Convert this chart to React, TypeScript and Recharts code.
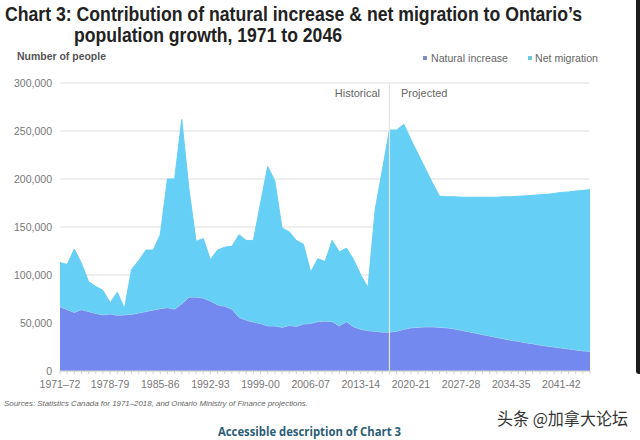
import { AreaChart, Area, XAxis, YAxis, CartesianGrid, ReferenceLine } from "recharts"

// seasons 1971-72 .. 2045-46
const seasons = Array.from({ length: 75 }, (_, i) => `${1971 + i}-${String((72 + i) % 100).padStart(2, "0")}`)

const naturalIncrease = [
  67000, 64000, 61000, 64000, 62000, 60000, 58500, 59500, 58000, 58500,
  59000, 60500, 62000, 63500, 65000, 66000, 64500, 70000, 77000, 77000,
  76000, 73000, 69000, 67500, 64500, 56000, 53000, 51000, 49500, 47000,
  47000, 45500, 47500, 46500, 49000, 49500, 51500, 52000, 51500, 47000,
  51500, 46000, 43500, 42000, 41500, 40500, 40500, 41500, 43500, 45000,
  45500, 46000, 46000, 45500, 45000, 44000, 42500, 41000, 39500, 38000,
  36500, 35000, 33500, 32000, 31000, 29500, 28500, 27000, 26000, 25000,
  24000, 23000, 22000, 21000, 20500,
]

const netMigration = [
  46000, 47000, 66000, 48000, 31000, 28000, 25500, 11500, 24000, 6500,
  47000, 54500, 64000, 62500, 77000, 134000, 135500, 192000, 113000, 58000,
  62000, 43000, 57000, 61500, 65500, 86000, 83000, 85000, 125500, 166000,
  151000, 103500, 97500, 89500, 83000, 53500, 65500, 62000, 84500, 77000,
  76500, 70000, 56500, 45000, 126500, 168500, 210500, 209500, 213500, 196000,
  180500, 165000, 150000, 136500, 136500, 137500, 138500, 140000, 141500, 143000,
  144500, 146000, 148000, 149500, 151000, 153000, 154500, 156500, 158000, 160000,
  162000, 163500, 165500, 167000, 168500,
]

const yTicks = [0, 50000, 100000, 150000, 200000, 250000, 300000]
const lastHistorical = "2017-18"

const data = seasons.map((season, i) => ({
  season,
  natural: naturalIncrease[i],
  migration: netMigration[i],
}))

const colors = {
  natural: "#7389ef",
  migration: "#65cff6",
  grid: "#dedede",
  axisText: "#777",
}

const XTick = (props: any) => {
  const { x, y, payload, index } = props
  if (index % 7 !== 0) return null
  const label = index === 0 ? payload.value.replace("-", "–") : payload.value
  return (
    <text x={x} y={y + 12} textAnchor="middle" fontSize={10.5} fill={colors.axisText} fontFamily="Liberation Sans, Arial, sans-serif">
      {label}
    </text>
  )
}

export default function App() {
  return (
    <div style={{ position: "absolute", left: 0, top: 0, width: 640, height: 440, background: "#fff", overflow: "hidden" }}>
      <AreaChart width={640} height={440} data={data} margin={{ top: 83, right: 50, bottom: 0, left: 0 }}>
        <CartesianGrid vertical={false} stroke={colors.grid} />
        <XAxis
          dataKey="season"
          interval={0}
          height={69}
          tickSize={3}
          tickLine={{ stroke: "#d0d0d0" }}
          axisLine={{ stroke: "#d0d0d0" }}
          tick={<XTick />}
        />
        <YAxis
          width={60}
          domain={[0, 300000]}
          ticks={yTicks}
          axisLine={false}
          tickLine={false}
          tickFormatter={(v: number) => v.toLocaleString("en-US")}
          tick={{ fontSize: 10.5, fill: colors.axisText, fontFamily: "Liberation Sans, Arial, sans-serif" }}
        />
        <Area
          type="linear"
          dataKey="natural"
          stackId="1"
          fill={colors.natural}
          fillOpacity={1}
          stroke="#a9dcf8"
          strokeWidth={1}
          isAnimationActive={false}
        />
        <Area
          type="linear"
          dataKey="migration"
          stackId="1"
          fill={colors.migration}
          fillOpacity={1}
          stroke={colors.migration}
          strokeWidth={1}
          isAnimationActive={false}
        />
        <ReferenceLine x={lastHistorical} stroke="#e4e4e4" strokeWidth={1.2} />
      </AreaChart>

      <svg width={640} height={440} style={{ position: "absolute", left: 0, top: 0, pointerEvents: "none" }} fontFamily="Liberation Sans, Arial, sans-serif">
        {/* title glyphs are tall and narrow in the original, so stretch vertically */}
        <g transform="translate(0,21) scale(1,1.12)">
          <text x={5} y={0} fontSize={17.5} fontWeight="bold" fill="#222" textLength={577} lengthAdjust="spacingAndGlyphs">
            Chart 3: Contribution of natural increase &amp; net migration to Ontario’s
          </text>
        </g>
        <g transform="translate(0,42) scale(1,1.12)">
          <text x={74} y={0} fontSize={17.5} fontWeight="bold" fill="#222" textLength={268} lengthAdjust="spacingAndGlyphs">
            population growth, 1971 to 2046
          </text>
        </g>
        <text x={17} y={60} fontSize={10.5} fontWeight="bold" fill="#555" textLength={89} lengthAdjust="spacingAndGlyphs">
          Number of people
        </text>

        <rect x={423} y={56} width={4} height={4} fill="#7f8cc8" />
        <text x={431} y={62} fontSize={11} fill="#666" textLength={77} lengthAdjust="spacingAndGlyphs">
          Natural increase
        </text>
        <rect x={528} y={56} width={4} height={4} fill="#6cc9d9" />
        <text x={535} y={62} fontSize={11} fill="#666" textLength={63} lengthAdjust="spacingAndGlyphs">
          Net migration
        </text>

        <text x={380} y={97} fontSize={11} fill="#666" textAnchor="end">
          Historical
        </text>
        <text x={401} y={97} fontSize={11} fill="#666">
          Projected
        </text>

        <text x={4} y={406} fontSize={8} fontStyle="italic" fill="#666" textLength={304} lengthAdjust="spacingAndGlyphs">
          Sources: Statistics Canada for 1971–2018, and Ontario Ministry of Finance projections.
        </text>

        <text x={218} y={436} fontSize={12} fontWeight="bold" fill="#2b5d78" textLength={183} lengthAdjust="spacingAndGlyphs" fontFamily="Open Sans, Noto Sans, sans-serif">
          Accessible description of Chart 3
        </text>

        <text x={497} y={425} fontSize={17} fill="#333" textLength={131} lengthAdjust="spacingAndGlyphs" fontFamily="Noto Sans CJK SC, sans-serif">
          头条 @加拿大论坛
        </text>
      </svg>

      <div style={{ position: "absolute", left: 636, top: 0, width: 4, height: 374, background: "#1c1c1c", borderBottomLeftRadius: 3 }} />
    </div>
  )
}
